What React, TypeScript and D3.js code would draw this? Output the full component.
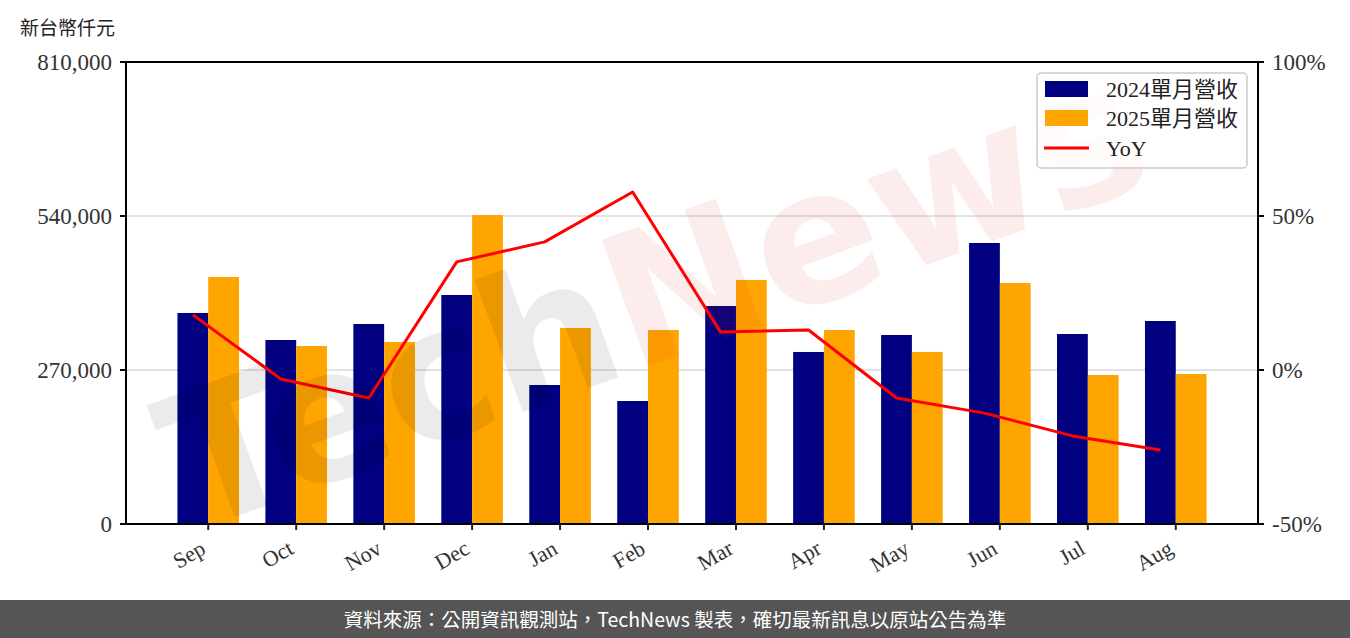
import React from "react";
import * as d3 from "d3";

const categories = ["Sep", "Oct", "Nov", "Dec", "Jan", "Feb", "Mar", "Apr", "May", "Jun", "Jul", "Aug"];
const rev2024 = [370000, 322600, 350600, 401500, 243700, 215600, 382200, 301600, 331400, 492700, 333100, 355900];
const rev2025 = [433000, 312100, 319100, 541700, 343600, 340100, 427800, 340100, 301600, 422500, 261200, 263000];
const yoy = [17.9, -2.9, -9.1, 35.1, 41.6, 57.8, 12.3, 13.0, -9.1, -14.0, -21.4, -26.0];
const leftTicks = [0, 270000, 540000, 810000];
const rightTicks = [-50, 0, 50, 100];
const legendLabels = ["2024單月營收", "2025單月營收", "YoY"];

const W = 1350, H = 638;
const L = 126, R = 1258, T = 62, B = 524;
const serif = "'Liberation Serif', 'Noto Sans CJK TC', serif";
const cjk = "'Noto Sans CJK TC', sans-serif";

export default function App() {
  const n = categories.length;
  const bw = 0.35;
  const pad = 0.05 * (n - 1 + 2 * bw);
  const x = d3.scaleLinear().domain([-bw - pad, n - 1 + bw + pad]).range([L, R]);
  const y = d3.scaleLinear().domain([0, 810000]).range([B, T]);
  const y2 = d3.scaleLinear().domain([-50, 100]).range([B, T]);
  const fmt = d3.format(",");
  const line = d3.line<number>().x((_, i) => x(i - bw / 2)).y((d) => y2(d));
  const pxw = x(bw) - x(0);

  return (
    <div style={{ position: "absolute", left: 0, top: 0 }}>
      <svg width={W} height={H} style={{ display: "block" }}>
        <defs>
          <clipPath id="plotclip">
            <rect x={L} y={T} width={R - L} height={B - T} />
          </clipPath>
        </defs>
        <rect width={W} height={H} fill="#fff" />
        {/* grid */}
        {leftTicks.slice(1, 3).map((t) => (
          <line key={t} x1={L} x2={R} y1={y(t)} y2={y(t)} stroke="#d9d9d9" strokeWidth={1.5} />
        ))}
        {/* bars */}
        {rev2024.map((v, i) => (
          <rect key={"a" + i} x={x(i - bw)} y={y(v)} width={pxw} height={y(0) - y(v)} fill="#000080" />
        ))}
        {rev2025.map((v, i) => (
          <rect key={"b" + i} x={x(i)} y={y(v)} width={pxw} height={y(0) - y(v)} fill="#FFA500" />
        ))}
        {/* yoy line */}
        <path d={line(yoy) || ""} fill="none" stroke="#ff0000" strokeWidth={3} strokeLinejoin="round" />
        {/* watermark */}
        <g clipPath="url(#plotclip)" style={{ pointerEvents: "none" }}>
          <g transform="translate(655,300) rotate(-20)">
            <text x={0} y={60} textAnchor="middle" fontFamily="'DejaVu Sans', sans-serif" fontWeight="bold" fontSize={185}>
              <tspan fill="#000000" fillOpacity={0.08}>Tech</tspan>
              <tspan fill="#e03030" fillOpacity={0.09}>News</tspan>
            </text>
          </g>
        </g>
        {/* axes frame */}
        <line x1={L} x2={L} y1={T} y2={B} stroke="#000" strokeWidth={2} />
        <line x1={R} x2={R} y1={T} y2={B} stroke="#000" strokeWidth={2} />
        <line x1={L} x2={R} y1={T} y2={T} stroke="#000" strokeWidth={2} />
        <line x1={L} x2={R} y1={B} y2={B} stroke="#000" strokeWidth={2} />
        {/* left ticks */}
        {leftTicks.map((t) => (
          <g key={t}>
            <line x1={L - 6} x2={L} y1={y(t)} y2={y(t)} stroke="#000" strokeWidth={2} />
            <text x={L - 14} y={y(t)} dy="0.35em" textAnchor="end" fontFamily={serif} fontSize={23} fill="#333">{fmt(t)}</text>
          </g>
        ))}
        {/* right ticks */}
        {rightTicks.map((t) => (
          <g key={t}>
            <line x1={R} x2={R + 6} y1={y2(t)} y2={y2(t)} stroke="#000" strokeWidth={2} />
            <text x={R + 14} y={y2(t)} dy="0.35em" textAnchor="start" fontFamily={serif} fontSize={23} fill="#333">{t + "%"}</text>
          </g>
        ))}
        {/* x ticks */}
        {categories.map((c, i) => (
          <g key={c}>
            <line x1={x(i)} x2={x(i)} y1={B} y2={B + 6} stroke="#222" strokeWidth={2} />
            <text transform={`translate(${x(i) - 5},${B + 22}) rotate(-30)`} textAnchor="end" dy="0.35em" fontFamily={serif} fontSize={22} fill="#333">{c}</text>
          </g>
        ))}
        {/* unit label */}
        <text x={20} y={35} fontFamily={cjk} fontSize={19} fill="#222">新台幣仟元</text>
        {/* legend */}
        <g>
          <rect x={1037} y={73} width={210} height={95} rx={4} fill="#fff" fillOpacity={0.8} stroke="#cccccc" strokeWidth={1.5} />
          <rect x={1045} y={81} width={43} height={16} fill="#000080" />
          <rect x={1045} y={110} width={43} height={16} fill="#FFA500" />
          <line x1={1044} x2={1089} y1={148} y2={148} stroke="#ff0000" strokeWidth={3} />
          {legendLabels.map((l, i) => (
            <text key={l} x={1106} y={89 + i * 29.5} dy="0.35em" fontFamily={serif} fontSize={22} fill="#222">{l}</text>
          ))}
        </g>
        {/* footer */}
        <rect x={0} y={600} width={W} height={38} fill="#555555" />
        <text x={W / 2} y={620} dy="0.35em" textAnchor="middle" fontFamily={cjk} fontSize={19.5} fill="#fff">資料來源：公開資訊觀測站，TechNews 製表，確切最新訊息以原站公告為準</text>
      </svg>
    </div>
  );
}
